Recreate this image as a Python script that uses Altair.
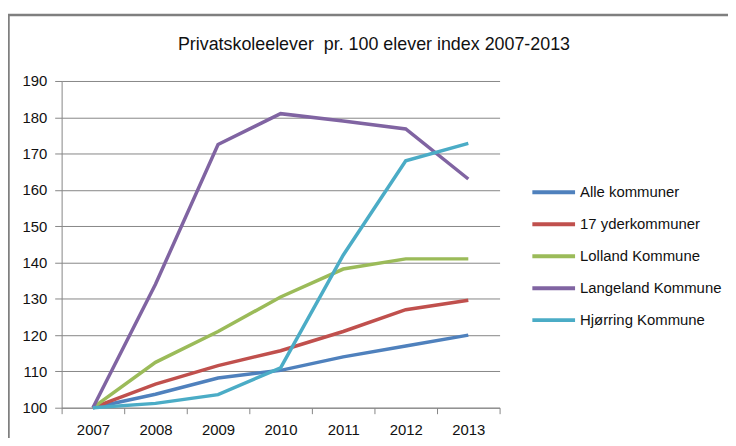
import altair as alt
import pandas as pd

years = ["2007", "2008", "2009", "2010", "2011", "2012", "2013"]
series_names = ["Alle kommuner", "17 yderkommuner", "Lolland Kommune",
                "Langeland Kommune", "Hjørring Kommune"]
alle = [100, 103.7, 108.2, 110.3, 114.0, 117.0, 120.0]
yder = [100, 106.5, 111.6, 115.7, 121.0, 127.0, 129.6]
lolland = [100, 112.5, 121.0, 130.5, 138.2, 141.0, 141.0]
langeland = [100, 134.0, 172.5, 181.0, 179.0, 176.8, 163.0]
hjorring = [100, 101.2, 103.6, 111.0, 142.0, 168.0, 172.8]
colors = ["#4F81BD", "#C0504D", "#9BBB59", "#8064A2", "#4BACC6"]
y_ticks = [100, 110, 120, 130, 140, 150, 160, 170, 180, 190]
title_text = "Privatskoleelever\u00a0\u00a0pr. 100 elever index 2007-2013"

rows = []
for name, vals in zip(series_names, [alle, yder, lolland, langeland, hjorring]):
    for yr, v in zip(years, vals):
        rows.append({"year": yr, "value": v, "series": name})
df = pd.DataFrame(rows)

FONT = "Liberation Sans, Arial, sans-serif"

lines = alt.Chart(df).mark_line(strokeWidth=3.5).encode(
    x=alt.X("year:O", bandPosition=0.5,
            scale=alt.Scale(type="band", domain=years, paddingInner=0, paddingOuter=0),
            axis=alt.Axis(title=None, labelAngle=0, tickBand="extent", tickSize=6,
                          labelPadding=9, labelFontSize=15, labelFont=FONT,
                          labelColor="#111", domainColor="#868686", tickColor="#868686",
                          grid=False)),
    y=alt.Y("value:Q",
            scale=alt.Scale(domain=[100, 190], nice=False, zero=False),
            axis=alt.Axis(title=None, values=y_ticks, tickSize=7, labelPadding=8,
                          labelFontSize=15, labelFont=FONT, labelColor="#111",
                          domainColor="#868686", tickColor="#868686",
                          gridColor="#868686", gridWidth=1)),
    color=alt.Color("series:N",
                    scale=alt.Scale(domain=series_names, range=colors),
                    legend=alt.Legend(title=None, orient="none", legendX=472, legendY=104,
                                      symbolType="stroke", symbolSize=1849,
                                      symbolStrokeWidth=4, clipHeight=16,
                                      rowPadding=16.2, labelOffset=3,
                                      labelFontSize=15, labelFont=FONT,
                                      labelColor="#111")),
    order=alt.Order("year:O"),
)

frame_df = pd.DataFrame({"k": [1]})
frame = alt.Chart(frame_df).mark_rect(fill=None, stroke="#7f7f7f", strokeWidth=2.5).encode(
    x=alt.value(-53.5), x2=alt.value(800), y=alt.value(-66.5), y2=alt.value(700)
)

chart = alt.layer(frame, lines).properties(
    width=441, height=329,
    title=alt.TitleParams(title_text, fontSize=18, font=FONT, fontWeight="normal",
                          color="#111", anchor="middle", dx=94, offset=-41),
    autosize=alt.AutoSizeParams(type="none"),
    padding={"left": 54, "top": 72, "right": 230, "bottom": 29},
).configure_view(stroke=None)

chart.save("out.html", embed_options={"renderer": "svg", "actions": False})
